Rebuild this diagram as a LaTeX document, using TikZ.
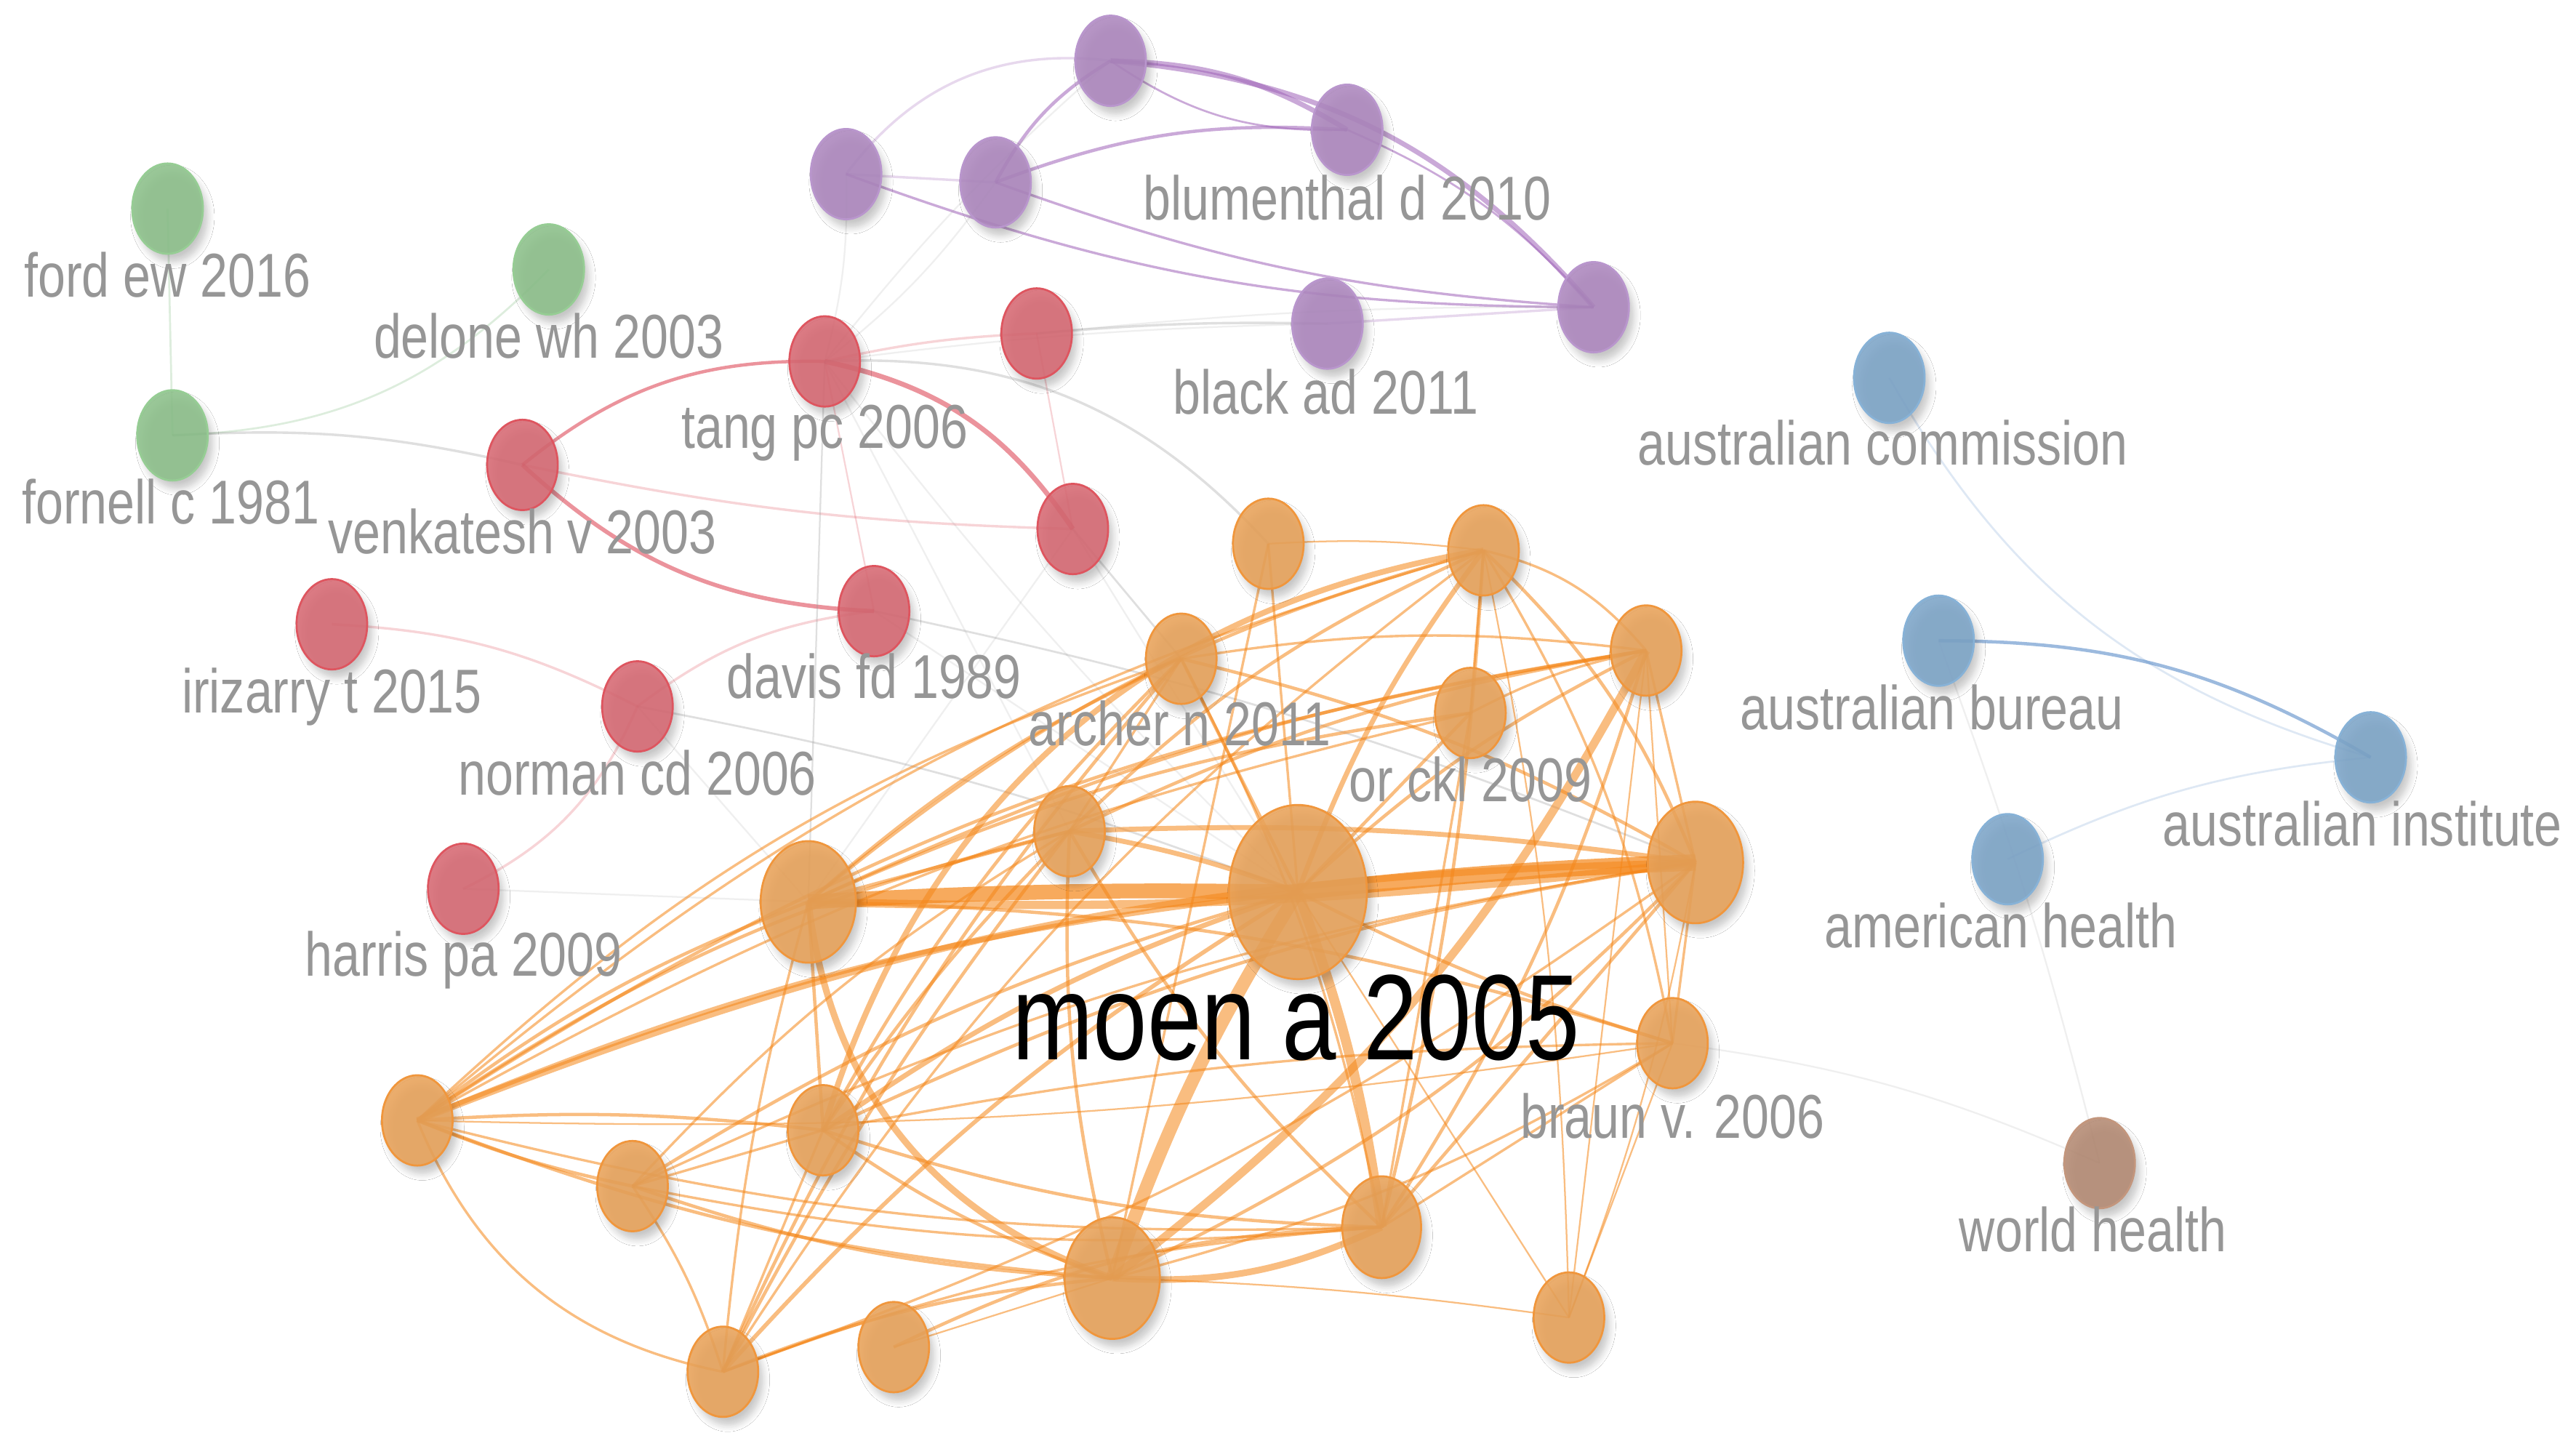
\documentclass[tikz,border=0pt]{standalone}
\usepackage{fontspec}
\setmainfont{Liberation Sans}[FakeStretch=0.8]
\usetikzlibrary{shapes.geometric,shadows.blur}
\pgfdeclarelayer{bg}
\pgfsetlayers{bg,main}
\definecolor{cO}{RGB}{233,163,90}
\definecolor{cOb}{RGB}{240,150,60}
\definecolor{cR}{RGB}{215,105,115}
\definecolor{cRb}{RGB}{222,85,95}
\definecolor{cG}{RGB}{140,192,138}
\definecolor{cGb}{RGB}{150,205,148}
\definecolor{cP}{RGB}{173,135,190}
\definecolor{cPb}{RGB}{185,150,205}
\definecolor{cB}{RGB}{125,165,200}
\definecolor{cBb}{RGB}{135,178,215}
\definecolor{cN}{RGB}{180,138,115}
\definecolor{cNb}{RGB}{195,150,125}
\definecolor{eO}{RGB}{245,135,25}
\definecolor{eR}{RGB}{220,60,75}
\definecolor{eP}{RGB}{160,100,185}
\definecolor{eB}{RGB}{90,140,200}
\definecolor{eGr}{RGB}{120,185,120}
\definecolor{eK}{RGB}{150,150,150}
\definecolor{lblgray}{RGB}{150,150,150}
\begin{document}
\begin{tikzpicture}[x=1pt,y=-1pt,
  nd/.style={ellipse,inner sep=0pt,line width=1.2pt,fill opacity=0.88,
    minimum width=43pt,minimum height=55pt,
    blur shadow={shadow xshift=3pt,shadow yshift=-5pt,shadow opacity=25,shadow blur steps=6,shadow blur radius=4pt}},
  md/.style={minimum width=48pt,minimum height=62pt},
  lg/.style={minimum width=58pt,minimum height=74pt},
  xl/.style={minimum width=84pt,minimum height=106pt},
  on/.style={nd,fill=cO,draw=cOb},
  rn/.style={nd,fill=cR,draw=cRb},
  gn/.style={nd,fill=cG,draw=cGb},
  pn/.style={nd,fill=cP,draw=cPb},
  bn/.style={nd,fill=cB,draw=cBb},
  wn/.style={nd,fill=cN,draw=cNb},
  lbl/.style={anchor=base,inner sep=0pt,text=lblgray,font=\fontsize{37.7}{40}\selectfont},
  eo/.style={draw=eO,draw opacity=0.55,line width=#1},eo/.default=1.5pt,
  eot/.style={draw=eO,draw opacity=0.7,line width=#1},
  er/.style={draw=eR,draw opacity=0.55,line width=#1},er/.default=2pt,
  erl/.style={draw=eR,draw opacity=0.22,line width=#1},erl/.default=1.5pt,
  ep/.style={draw=eP,draw opacity=0.55,line width=#1},ep/.default=2pt,
  epl/.style={draw=eP,draw opacity=0.25,line width=#1},epl/.default=1.5pt,
  eb/.style={draw=eB,draw opacity=0.6,line width=#1},eb/.default=2pt,
  ebl/.style={draw=eB,draw opacity=0.2,line width=#1},ebl/.default=1.2pt,
  egr/.style={draw=eGr,draw opacity=0.25,line width=1.2pt},
  ek/.style={draw=eK,draw opacity=0.3,line width=#1},ek/.default=1.2pt,
  ekl/.style={draw=eK,draw opacity=0.15,line width=1pt}]
\useasboundingbox (0,0) rectangle (1568,882);
% green
\node[gn] (ford) at (102,127) {};
\node[gn] (delone) at (334,164) {};
\node[gn] (fornell) at (105,265) {};
% purple
\node[pn] (pA) at (515,106) {};
\node[pn] (pB) at (606,111) {};
\node[pn] (pC) at (676,37) {};
\node[pn] (blum) at (820,79) {};
\node[pn] (pE) at (970,187) {};
\node[pn] (black) at (808,197) {};
% red
\node[rn] (tang) at (502,220) {};
\node[rn] (rB) at (631,203) {};
\node[rn] (venk) at (318,283) {};
\node[rn] (rD) at (653,322) {};
\node[rn] (davis) at (532,372) {};
\node[rn] (iriz) at (202,380) {};
\node[rn] (norman) at (388,430) {};
\node[rn] (harris) at (282,541) {};
% blue
\node[bn] (comm) at (1150,230) {};
\node[bn] (bureau) at (1180,390) {};
\node[bn] (inst) at (1443,461) {};
\node[bn] (amer) at (1222,523) {};
% brown
\node[wn] (world) at (1278,708) {};
% orange
\node[on] (oA) at (772,331) {};
\node[on] (oB) at (903,335) {};
\node[on] (archer) at (719,401) {};
\node[on] (oD) at (1002,396) {};
\node[on] (orck) at (895,434) {};
\node[on] (oF) at (651,506) {};
\node[on,xl] (moen) at (790,543) {};
\node[on,lg] (oH) at (1032,525) {};
\node[on,lg] (oI) at (492,549) {};
\node[on] (braun) at (1018,635) {};
\node[on] (oK) at (254,682) {};
\node[on] (oL) at (385,722) {};
\node[on] (oM) at (501,688) {};
\node[on,lg] (oN) at (677,778) {};
\node[on,md] (oP) at (841,747) {};
\node[on] (oQ) at (955,802) {};
\node[on] (oR) at (440,835) {};
\node[on] (oS) at (544,820) {};
% labels
\node[lbl] (lford) at (102,181) {ford ew 2016};
\node[lbl] (ldelone) at (334,218) {delone wh 2003};
\node[lbl] (lfornell) at (104,319) {fornell c 1981};
\node[lbl] (lblum) at (820,134) {blumenthal d 2010};
\node[lbl] (lblack) at (807,252) {black ad 2011};
\node[lbl] (ltang) at (502,273) {tang pc 2006};
\node[lbl] (lvenk) at (318,337) {venkatesh v 2003};
\node[lbl] (ldavis) at (532,425) {davis fd 1989};
\node[lbl] (liriz) at (202,434) {irizarry t 2015};
\node[lbl] (lnorman) at (388,484) {norman cd 2006};
\node[lbl] (lharris) at (282,594) {harris pa 2009};
\node[lbl] (larcher) at (718,454) {archer n 2011};
\node[lbl] (lorck) at (895,488) {or ckl 2009};
\node[lbl] (lbraun) at (1018,693) {braun v. 2006};
\node[lbl] (lcomm) at (1146,283) {australian commission};
\node[lbl] (lbureau) at (1176,444) {australian bureau};
\node[lbl] (linst) at (1438,515) {australian institute};
\node[lbl] (lamer) at (1218,577) {american health};
\node[lbl] (lworld) at (1274,762) {world health};
\node[anchor=base,inner sep=0pt,text=black,font=\fontsize{74}{80}\selectfont] (lmoen) at (789,645) {moen a 2005};
\begin{pgfonlayer}{bg}
\fill[white] (0,0) rectangle (1568,882);
% green
\draw[egr] (ford.center) to (fornell.center);
\draw[egr] (fornell.center) to[bend right=22] (delone.center);
\draw[ek=1.5pt] (fornell.center) to[bend left=8] (venk.center);
% purple
\draw[epl] (pA.center) to[bend left=30] (pC.center);
\draw[epl] (pA.center) to (pB.center);
\draw[ep=1.5pt] (pA.center) to[bend right=10] (pE.center);
\draw[ep=1.5pt] (pB.center) to[bend right=8] (pE.center);
\draw[ep] (pB.center) to[bend left=15] (pC.center);
\draw[ep] (pB.center) to[bend left=12] (blum.center);
\draw[ep=3pt] (pC.center) to[bend left=15] (blum.center);
\draw[ep=1.2pt] (pC.center) to[bend right=18] (blum.center);
\draw[ep=3pt] (pC.center) to[bend left=22] (pE.center);
\draw[ep=1.2pt] (blum.center) to[bend left=12] (pE.center);
\draw[epl] (black.center) to (pE.center);
\draw[ekl] (tang.center) to[bend right=8] (pA.center);
\draw[ekl] (tang.center) to[bend right=8] (pB.center);
\draw[ekl] (tang.center) to[bend left=5] (pC.center);
% red
\draw[er] (venk.center) to[bend left=20] (tang.center);
\draw[er=3pt] (tang.center) to[bend left=22] (rD.center);
\draw[er=2.5pt] (venk.center) to[bend right=20] (davis.center);
\draw[erl] (venk.center) to[bend right=5] (rD.center);
\draw[erl] (tang.center) to[bend left=5] (rB.center);
\draw[erl=1pt] (tang.center) to (davis.center);
\draw[erl=1pt] (rB.center) to (rD.center);
\draw[erl] (iriz.center) to[bend left=12] (norman.center);
\draw[erl] (norman.center) to[bend left=15] (davis.center);
\draw[erl] (norman.center) to[bend left=20] (harris.center);
\draw[ekl] (harris.center) to (oI.center);
\draw[ek] (norman.center) to[bend left=5] (moen.center);
\draw[ekl] (norman.center) to (oI.center);
\draw[ek=1pt] (tang.center) to (oI.center);
\draw[ek=1.5pt] (tang.center) to[bend left=25] (oA.center);
\draw[ekl] (tang.center) to (oF.center);
\draw[ekl] (tang.center) to[bend right=4] (moen.center);
\draw[ek=1.5pt] (rB.center) to[bend left=3] (black.center);
\draw[ekl] (rB.center) to[bend left=3] (pE.center);
\draw[ekl] (tang.center) to[bend left=3] (black.center);
\draw[ek] (rD.center) to (archer.center);
\draw[ekl] (rD.center) to (oI.center);
\draw[ekl] (rD.center) to (moen.center);
\draw[ek] (davis.center) to[bend left=5] (oH.center);
\draw[ekl] (davis.center) to (moen.center);
% blue / brown
\draw[eb] (bureau.center) to[bend left=15] (inst.center);
\draw[ebl] (comm.center) to[bend right=22] (inst.center);
\draw[ebl] (amer.center) to[bend left=10] (inst.center);
\draw[ekl] (bureau.center) to[bend left=3] (world.center);
\draw[ekl] (braun.center) to[bend left=8] (world.center);
% orange thick core
\draw[eot=9pt] (oI.center) to[bend left=2] (moen.center);
\draw[eot=10pt] (moen.center) to[bend left=2] (oH.center);
\draw[eo=5pt] (oI.center) to[bend right=4] (oH.center);
\draw[eo=8pt] (moen.center) to[bend right=6] (oN.center);
\draw[eo=6pt] (moen.center) to[bend left=6] (oP.center);
\draw[eo=4pt] (oI.center) to[bend right=32] (oN.center);
\draw[eo=4pt] (oN.center) to[bend right=14] (oP.center);
\draw[eo=5pt] (oD.center) to[bend left=12] (oN.center);
\draw[eo=3.5pt] (oM.center) to[bend left=32] (oB.center);
\draw[eo=4pt] (oK.center) to[bend left=10] (oH.center);
\draw[eo=3pt] (oK.center) to[bend left=8] (moen.center);
% orange others
\draw[eo=2pt] (oK.center) to[bend left=8] (oI.center);
\draw[eo=2pt] (oK.center) to[bend left=10] (oF.center);
\draw[eo=2pt] (oK.center) to[bend left=12] (oD.center);
\draw[eo] (oK.center) to[bend left=12] (oB.center);
\draw[eo] (oK.center) to[bend left=12] (archer.center);
\draw[eo=2pt] (oK.center) to[bend left=5] (oM.center);
\draw[eo=2pt] (oK.center) to[bend right=5] (oL.center);
\draw[eo] (oK.center) to[bend right=28] (oR.center);
\draw[eo=2pt] (oK.center) to[bend right=8] (oN.center);
\draw[eo] (oK.center) to[bend right=8] (oP.center);
\draw[eo=1pt] (oK.center) to[bend right=5] (braun.center);
\draw[eo] (oL.center) to (oM.center);
\draw[eo=2pt] (oL.center) to[bend left=8] (moen.center);
\draw[eo] (oL.center) to[bend left=8] (oR.center);
\draw[eo=2pt] (oL.center) to[bend right=8] (oN.center);
\draw[eo] (oL.center) to[bend right=8] (oP.center);
\draw[eo] (oL.center) to[bend left=8] (oH.center);
\draw[eo] (oL.center) to[bend left=8] (oF.center);
\draw[eo=2pt] (oM.center) to (oI.center);
\draw[eo=3pt] (oM.center) to[bend left=8] (moen.center);
\draw[eo=2pt] (oM.center) to[bend left=5] (oF.center);
\draw[eo=2pt] (oM.center) to[bend right=8] (oN.center);
\draw[eo=2pt] (oM.center) to[bend right=8] (oP.center);
\draw[eo=2pt] (oM.center) to[bend left=8] (oH.center);
\draw[eo] (oM.center) to (oR.center);
\draw[eo] (oR.center) to[bend left=5] (oI.center);
\draw[eo=2.5pt] (oR.center) to[bend left=8] (moen.center);
\draw[eo=2pt] (oR.center) to[bend left=5] (oF.center);
\draw[eo=2pt] (oR.center) to[bend left=8] (archer.center);
\draw[eo=2pt] (oR.center) to[bend left=8] (oN.center);
\draw[eo] (oR.center) to[bend left=8] (oP.center);
\draw[eo] (oR.center) to[bend left=10] (oB.center);
\draw[eo=2pt] (oS.center) to[bend left=12] (oP.center);
\draw[eo=1pt] (oS.center) to (oN.center);
\draw[eo=3pt] (oF.center) to[bend left=5] (moen.center);
\draw[eo=3pt] (oF.center) to[bend left=5] (oH.center);
\draw[eo=2pt] (oF.center) to[bend right=8] (oN.center);
\draw[eo=2pt] (oF.center) to[bend right=8] (oP.center);
\draw[eo=2pt] (oF.center) to (oI.center);
\draw[eo] (oF.center) to (archer.center);
\draw[eo=2pt] (oF.center) to[bend left=8] (oD.center);
\draw[eo=2pt] (oF.center) to[bend left=10] (oB.center);
\draw[eo=2pt] (archer.center) to (moen.center);
\draw[eo=2pt] (archer.center) to[bend right=8] (oI.center);
\draw[eo=2pt] (archer.center) to[bend right=8] (oM.center);
\draw[eo] (archer.center) to[bend left=8] (oP.center);
\draw[eo=2pt] (archer.center) to[bend left=8] (oH.center);
\draw[eo] (archer.center) to[bend left=8] (oD.center);
\draw[eo] (oA.center) to (oN.center);
\draw[eo] (oA.center) to (moen.center);
\draw[eo=1pt] (oA.center) to[bend left=5] (oB.center);
\draw[eo=3pt] (oB.center) to[bend right=8] (moen.center);
\draw[eo=2pt] (oB.center) to[bend left=12] (oH.center);
\draw[eo] (oB.center) to[bend left=18] (oD.center);
\draw[eo] (oB.center) to (orck.center);
\draw[eo=2pt] (oB.center) to[bend left=5] (oP.center);
\draw[eo] (oB.center) to[bend left=10] (braun.center);
\draw[eo=2pt] (oB.center) to[bend right=12] (oI.center);
\draw[eo=1pt] (oB.center) to[bend left=5] (oQ.center);
\draw[eo] (oD.center) to (oH.center);
\draw[eo=1pt] (oD.center) to (braun.center);
\draw[eo=2pt] (oD.center) to[bend right=8] (moen.center);
\draw[eo=2pt] (oD.center) to[bend right=8] (oI.center);
\draw[eo=2pt] (oD.center) to[bend left=8] (oP.center);
\draw[eo=1pt] (oD.center) to (oQ.center);
\draw[eo] (oD.center) to[bend right=8] (orck.center);
\draw[eo=2pt] (orck.center) to (moen.center);
\draw[eo=2pt] (orck.center) to[bend right=8] (oI.center);
\draw[eo] (orck.center) to (oP.center);
\draw[eo] (orck.center) to[bend right=8] (oK.center);
\draw[eo] (braun.center) to (oH.center);
\draw[eo=2pt] (braun.center) to[bend left=5] (moen.center);
\draw[eo] (braun.center) to[bend right=5] (oM.center);
\draw[eo] (braun.center) to[bend left=8] (oN.center);
\draw[eo] (braun.center) to (oP.center);
\draw[eo=2pt] (braun.center) to[bend right=8] (oI.center);
\draw[eo=1pt] (oQ.center) to[bend right=5] (oH.center);
\draw[eo=1pt] (oQ.center) to[bend right=3] (oN.center);
\draw[eo=1pt] (oQ.center) to (braun.center);
\draw[eo=2pt] (oH.center) to[bend left=10] (oN.center);
\draw[eo=2pt] (oH.center) to (oP.center);
\draw[eo] (oH.center) to[bend left=8] (oR.center);
\draw[eo=1pt] (moen.center) to (oQ.center);
\end{pgfonlayer}
\end{tikzpicture}
\end{document}
